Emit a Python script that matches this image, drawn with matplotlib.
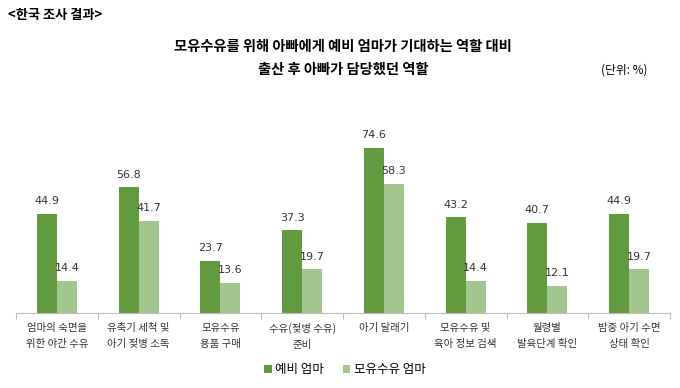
import matplotlib.pyplot as plt
import numpy as np

plt.rcParams['font.family'] = ['Noto Sans CJK KR', 'DejaVu Sans']

categories = ["엄마의 숙면을\n위한 야간 수유", "유축기 세척 및\n아기 젖병 소독", "모유수유\n용품 구매",
              "수유(젖병 수유)\n준비", "아기 달래기", "모유수유 및\n육아 정보 검색",
              "월령별\n발육단계 확인", "밤중 아기 수면\n상태 확인"]
expecting = [44.9, 56.8, 23.7, 37.3, 74.6, 43.2, 40.7, 44.9]
breastfeeding = [14.4, 41.7, 13.6, 19.7, 58.3, 14.4, 12.1, 19.7]
series_names = ["예비 엄마", "모유수유 엄마"]

dark = "#619A3F"
light = "#A3C58E"

fig = plt.figure(figsize=(6.8, 3.88), dpi=100)
ax = fig.add_axes([16/680, 75/388, 654/680, 177/388])

x = np.arange(len(categories))
w = 0.245
b1 = ax.bar(x - w/2, expecting, w, color=dark, label=series_names[0])
b2 = ax.bar(x + w/2, breastfeeding, w, color=light, label=series_names[1])

for bars in (b1, b2):
    for r in bars:
        ax.text(r.get_x() + r.get_width()/2, r.get_height() + 3.5, f"{r.get_height():.1f}",
                ha='center', va='bottom', fontsize=8, color='#333333', family='DejaVu Sans')

ax.set_xlim(-0.5, len(categories) - 0.5)
ax.set_ylim(0, 80)
for s in ['top', 'right', 'left']:
    ax.spines[s].set_visible(False)
ax.spines['bottom'].set_color('#BBBBBB')
ax.set_yticks([])
ax.set_xticks(np.arange(len(categories) + 1) - 0.5)
ax.set_xticklabels([])
ax.tick_params(axis='x', length=4, color='#BBBBBB')
for i, c in enumerate(categories):
    ax.text(i, -4.5, c, ha='center', va='top', fontsize=7.5, color='#333333', linespacing=1.75)

fig.text(8/680, 1 - 15/388, "<한국 조사 결과>", fontsize=9.5, fontweight='bold', va='center')
fig.text(343/680, 1 - 47/388, "모유수유를 위해 아빠에게 예비 엄마가 기대하는 역할 대비",
         fontsize=10.3, fontweight='bold', ha='center', va='center')
fig.text(343/680, 1 - 70/388, "출산 후 아빠가 담당했던 역할",
         fontsize=10.3, fontweight='bold', ha='center', va='center')
fig.text(624/680, 1 - 70/388, "(단위: %)", fontsize=8.5, ha='center', va='center')

fig.legend(loc='center', bbox_to_anchor=(345/680, 1 - 370/388), ncol=2, frameon=False,
           fontsize=9, handlelength=0.6, handleheight=0.6, handletextpad=0.3, columnspacing=1.5)

fig.savefig("out.png", dpi=100)
